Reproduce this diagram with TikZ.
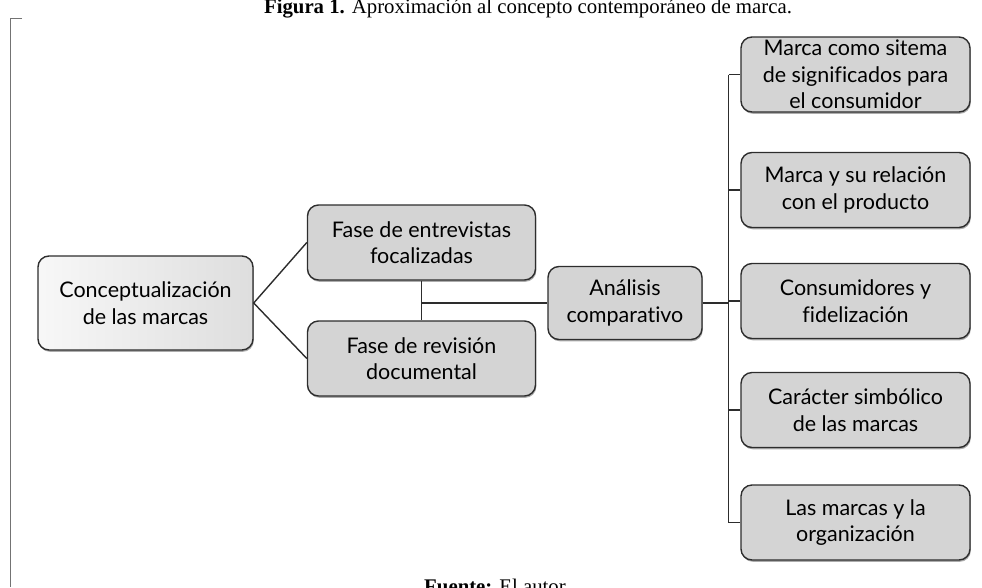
\documentclass[tikz,border=0pt]{standalone}
\usepackage{fontspec}
\setmainfont{Liberation Serif}
\newfontfamily\boxfont[Ligatures=NoCommon]{Lato}
\usetikzlibrary{shadows, positioning}
\definecolor{boxgray}{RGB}{212,212,212}
\definecolor{boxline}{RGB}{45,45,45}
\tikzset{
  box/.style={draw=boxline, line width=1.4pt, rounded corners=11pt, fill=boxgray,
    align=center, inner sep=0pt, font=\boxfont\fontsize{21.5}{26.5}\selectfont,
    drop shadow={shadow xshift=0.8pt, shadow yshift=-1.8pt, fill=black!65}},
  link/.style={draw=boxline, line width=1.4pt}
}

\begin{document}
\begin{tikzpicture}[x=1pt, y=1pt]
    \useasboundingbox (0,0) rectangle (982,-587);

    % Frame and captions
    \draw[black!55, line width=0.8pt] (22,-18) -- (10,-18) -- (10,-587);
    \node[anchor=base, font=\fontsize{20.8}{24}\selectfont] (title) at (528,-13.5)
        {\textbf{Figura 1.} Aproximación al concepto contemporáneo de marca.};
    \node[anchor=base, font=\fontsize{20.8}{24}\selectfont] (source) at (495,-593)
        {\textbf{Fuente:} El autor};

    % Main boxes
    \node[box, minimum width=215pt, minimum height=94pt,
          left color=black!3, right color=black!13] (conc) at (145.5,-303)
        {Conceptualización\\de las marcas};
    \node[box, minimum width=228pt, minimum height=75pt] (entrev) at (421.5,-242.5)
        {Fase de entrevistas\\focalizadas};
    \node[box, minimum width=228pt, minimum height=75pt] (revis) at (421.5,-358.5)
        {Fase de revisión\\documental};
    \node[box, minimum width=154pt, minimum height=73pt] (anal) at (625,-303)
        {Análisis\\comparativo};

    % Connectors
    \draw[link] (entrev.west) -- (conc.east) -- (revis.west);
    \draw[link] (entrev.south) -- (revis.north);
    \coordinate (mid) at (entrev.south |- anal.west);
    \draw[link] (mid) -- (anal.west);
    \coordinate (trunk) at (728.5,-303);
    \draw[link] (anal.east) -- (trunk);

    % Right column
    \foreach \y/\txt [count=\i] in {74.5/{Marca como sitema\\de significados para\\el consumidor},
                                    190/{Marca y su relación\\con el producto},
                                    301/{Consumidores y\\fidelización},
                                    410/{Carácter simbólico\\de las marcas},
                                    522.5/{Las marcas y la\\organización}} {
        \node[box, minimum width=229pt, minimum height=75pt] (r\i) at (855.5,-\y) {\txt};
        \draw[link] (r\i.west) -- (trunk |- r\i.west);
    }
    \draw[link] (trunk |- r1.west) -- (trunk |- r5.west);
\end{tikzpicture}
\end{document}
